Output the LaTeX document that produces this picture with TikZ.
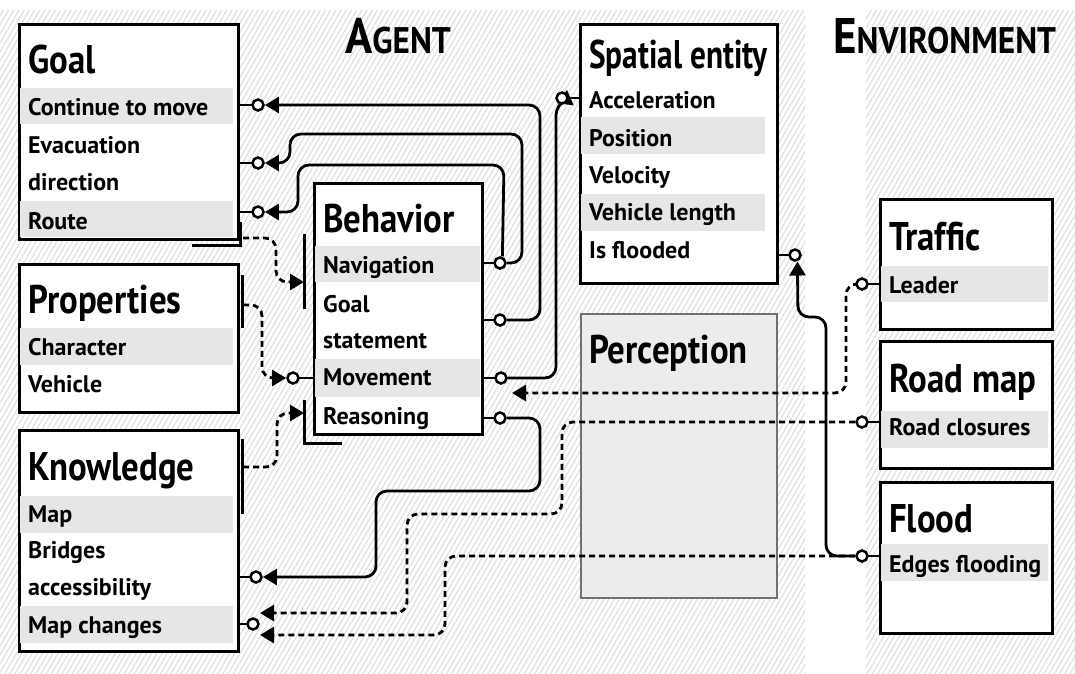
\documentclass[tikz,border=0pt]{standalone}
\usepackage{fontspec}
\setmainfont{PT Sans}
\newfontfamily\titlefam{PT Sans}[FakeStretch=0.87]
\newfontfamily\headfam{PT Sans}[FakeStretch=0.9]
\usetikzlibrary{arrows.meta,patterns.meta}
\definecolor{band}{HTML}{E6E6E6}
\definecolor{hatch}{HTML}{DEDEDE}
\definecolor{percfill}{HTML}{ECECEC}
\definecolor{percline}{HTML}{707070}
\begin{document}
\begin{tikzpicture}[x=1pt,y=-1pt,
  box/.style={draw=black,line width=2.2pt,fill=white,inner sep=0pt,anchor=north west},
  boxline/.style={draw=black,line width=2.2pt},
  bandfill/.style={fill=band},
  titletext/.style={font=\titlefam\fontsize{40}{40}\bfseries\selectfont,anchor=base west,inner sep=0pt},
  itemtext/.style={font=\fontsize{24}{24}\bfseries\selectfont,anchor=base west,inner sep=0pt},
  headtext/.style={font=\headfam\bfseries,anchor=base west,inner sep=0pt},
  stub/.style={line width=2.8pt},
  conn/.style={line width=2.8pt,rounded corners=11pt},
  dconn/.style={conn,dash pattern=on 6pt off 4pt},
  tip/.style={-{Triangle[length=14pt,width=16pt]}},
  barline/.style={line width=3pt},
  portring/.style={line width=2.5pt,draw=black,fill=white}
]
\useasboundingbox (0,0) rectangle (1075,673);
\fill[white] (0,0) rectangle (1075,673);
\fill[pattern={Lines[angle=60,distance=4.5pt,line width=1.1pt]},pattern color=hatch] (0,10) rectangle (805,673);
\fill[pattern={Lines[angle=60,distance=4.5pt,line width=1.1pt]},pattern color=hatch] (866,10) rectangle (1075,673);

% headings
\node[headtext] (hagent) at (345,53) {\fontsize{50}{50}\selectfont A\fontsize{37}{37}\selectfont GENT};
\node[headtext] (henv) at (833,53) {\fontsize{50}{50}\selectfont E\fontsize{37}{37}\selectfont NVIRONMENT};

% boxes
\node[box,minimum width=218pt,minimum height=214pt] (goal) at (19,24) {};
\node[box,minimum width=218pt,minimum height=147pt] (props) at (19,264) {};
\node[box,minimum width=218pt,minimum height=220pt] (know) at (19,430) {};
\node[box,minimum width=167pt,minimum height=250pt] (behav) at (314,183) {};
\node[box,minimum width=196pt,minimum height=258pt] (spatial) at (580,24) {};
\node[box,draw=percline,fill=percfill,minimum width=196pt,minimum height=284pt] (perc) at (580,313) {};
\node[box,minimum width=171pt,minimum height=129pt] (traffic) at (880,199) {};
\node[box,minimum width=171pt,minimum height=126pt] (roadmap) at (880,341) {};
\node[box,minimum width=171pt,minimum height=150pt] (flood) at (880,482) {};

% bands
\fill[bandfill] (20,88) rectangle (233,124);
\fill[bandfill] (20,201) rectangle (233,237);
\fill[bandfill] (20,328) rectangle (233,365);
\fill[bandfill] (20,496) rectangle (233,533);
\fill[bandfill] (20,606) rectangle (233,643);
\fill[bandfill] (315,246) rectangle (480,282);
\fill[bandfill] (315,359) rectangle (480,397);
\fill[bandfill] (581,117) rectangle (765,154);
\fill[bandfill] (581,194) rectangle (765,231);
\fill[bandfill] (881,266) rectangle (1048,302);
\fill[bandfill] (881,411) rectangle (1048,448);
\fill[bandfill] (881,544) rectangle (1048,581);

% borders redrawn over bands
\foreach \b in {goal,props,know,behav,spatial,traffic,roadmap,flood}
  \draw[boxline] (\b.north west) rectangle (\b.south east);

% texts
\node[titletext] (tgoal) at (28,73) {Goal};
\node[itemtext] (g1) at (28,115) {Continue to move};
\node[itemtext] (g2) at (28,153) {Evacuation};
\node[itemtext] (g3) at (28,190) {direction};
\node[itemtext] (g4) at (28,229) {Route};

\node[titletext] (tprops) at (28,313) {Properties};
\node[itemtext] (p1) at (28,355) {Character};
\node[itemtext] (p2) at (28,392) {Vehicle};

\node[titletext] (tknow) at (28,480) {Knowledge};
\node[itemtext] (k1) at (28,522) {Map};
\node[itemtext] (k2) at (28,558) {Bridges};
\node[itemtext] (k3) at (28,595) {accessibility};
\node[itemtext] (k4) at (28,633) {Map changes};

\node[titletext] (tbehav) at (323,232) {Behavior};
\node[itemtext] (b1) at (323,273) {Navigation};
\node[itemtext] (b2) at (323,312) {Goal};
\node[itemtext] (b3) at (323,348) {statement};
\node[itemtext] (b4) at (323,385) {Movement};
\node[itemtext] (b5) at (323,424) {Reasoning};

\node[titletext] (tspatial) at (589,68) {\scalebox{0.9}[1]{Spatial entity}};
\node[itemtext] (s1) at (589,108) {Acceleration};
\node[itemtext] (s2) at (589,146) {Position};
\node[itemtext] (s3) at (589,183) {Velocity};
\node[itemtext] (s4) at (589,220) {Vehicle length};
\node[itemtext] (s5) at (589,258) {Is flooded};

\node[titletext] (tperc) at (589,363) {Perception};

\node[titletext] (ttraffic) at (889,250) {Traffic};
\node[itemtext] (t1) at (889,293) {Leader};
\node[titletext] (troad) at (889,392) {Road map};
\node[itemtext] (r1) at (889,435) {Road closures};
\node[titletext] (tflood) at (889,532) {Flood};
\node[itemtext] (f1) at (889,572) {Edges flooding};

% ports (named anchors for connectors)
\foreach \n/\x/\y in {contC/258/105,evacC/258/163,routeC/258/212,movInC/293/378,
  navC/500/263,gsC/500/320,movC/501/378,reasC/500/418,accC/562/98,isfC/795/255,
  leaderC/862/284,roadC/862/422,floodC/862/556,bridgesC/256/577,mapchC/253/624}
  \node[circle,minimum size=13.5pt,inner sep=0pt] (\n) at (\x,\y) {};

% free connector ends
\coordinate (goalOut) at (243,238);
\coordinate (propOut) at (243,305);
\coordinate (knowOut) at (243,467);
\coordinate (navIn) at (304,282);
\coordinate (reasIn) at (304,413);
\coordinate (percIn) at (512,393);
\coordinate (mapIn1) at (260,613);
\coordinate (mapIn2) at (260,635);

% bars
\draw[barline] (240,222) -- (240,245) -- (192,245);
\draw[barline] (242,275) -- (242,328);
\draw[barline] (242,439) -- (242,514);
\draw[barline] (304,234) -- (304,309);
\draw[barline] (304,400) -- (304,443) -- (342,443);

% stubs
\draw[stub] (goal.east |- contC) -- (contC.center);
\draw[stub] (goal.east |- evacC) -- (evacC.center);
\draw[stub] (goal.east |- routeC) -- (routeC.center);
\draw[stub] (behav.west |- movInC) -- (movInC.center);
\draw[stub] (behav.east |- navC) -- (navC.center);
\draw[stub] (behav.east |- gsC) -- (gsC.center);
\draw[stub] (behav.east |- movC) -- (movC.center);
\draw[stub] (behav.east |- reasC) -- (reasC.center);
\draw[stub] (spatial.west |- accC) -- (accC.center);
\draw[stub] (spatial.east |- isfC) -- (isfC.center);
\draw[stub] (traffic.west |- leaderC) -- (leaderC.center);
\draw[stub] (roadmap.west |- roadC) -- (roadC.center);
\draw[stub] (flood.west |- floodC) -- (floodC.center);
\draw[stub] (know.east |- bridgesC) -- (bridgesC.center);
\draw[stub] (know.east |- mapchC) -- (mapchC.center);

% dashed inputs on the left
\draw[dconn,tip] (goalOut) -- (276,238) -- (276,282) -- (navIn);
\draw[dconn,tip] (propOut) -- (262,305) -- (262,378) -- (movInC.west);
\draw[dconn,tip] (knowOut) -- (277,467) -- (277,413) -- (reasIn);

% environment dashed
\draw[dconn,tip] (leaderC.west) -- (846,284) -- (846,393) -- (percIn);
\draw[dconn,tip] (roadC.west) -- (562,422) -- (562,514) -- (407,514) -- (407,613) -- (mapIn1);
\draw[dconn,tip] (floodC.west) -- (445,556) -- (445,635) -- (mapIn2);

% solid connectors
\draw[conn,tip] (gsC.east) -- (540,320) -- (540,105) -- (contC.east);
\draw[conn,tip] (navC.east) -- (522,263) -- (522,134) -- (290,134) -- (290,163) -- (evacC.east);
\draw[conn,tip] (navC.70) -- (504,165) -- (298,165) -- (298,212) -- (routeC.east);
\draw[conn,tip] (movC.east) -- (556,378) -- (556,104) -- (accC.230);
\draw[conn,tip] (reasC.east) -- (540,418) -- (540,491) -- (376,491) -- (376,577) -- (bridgesC.east);
\draw[conn,tip] (floodC.west) -- (826,556) -- (826,317) -- (798,317) -- (isfC.290);

% port rings on top
\foreach \p in {contC,evacC,routeC,movInC,navC,gsC,movC,reasC,accC,isfC,leaderC,roadC,floodC,bridgesC,mapchC}
  \draw[portring] (\p.center) circle (5.5pt);
\end{tikzpicture}
\end{document}
